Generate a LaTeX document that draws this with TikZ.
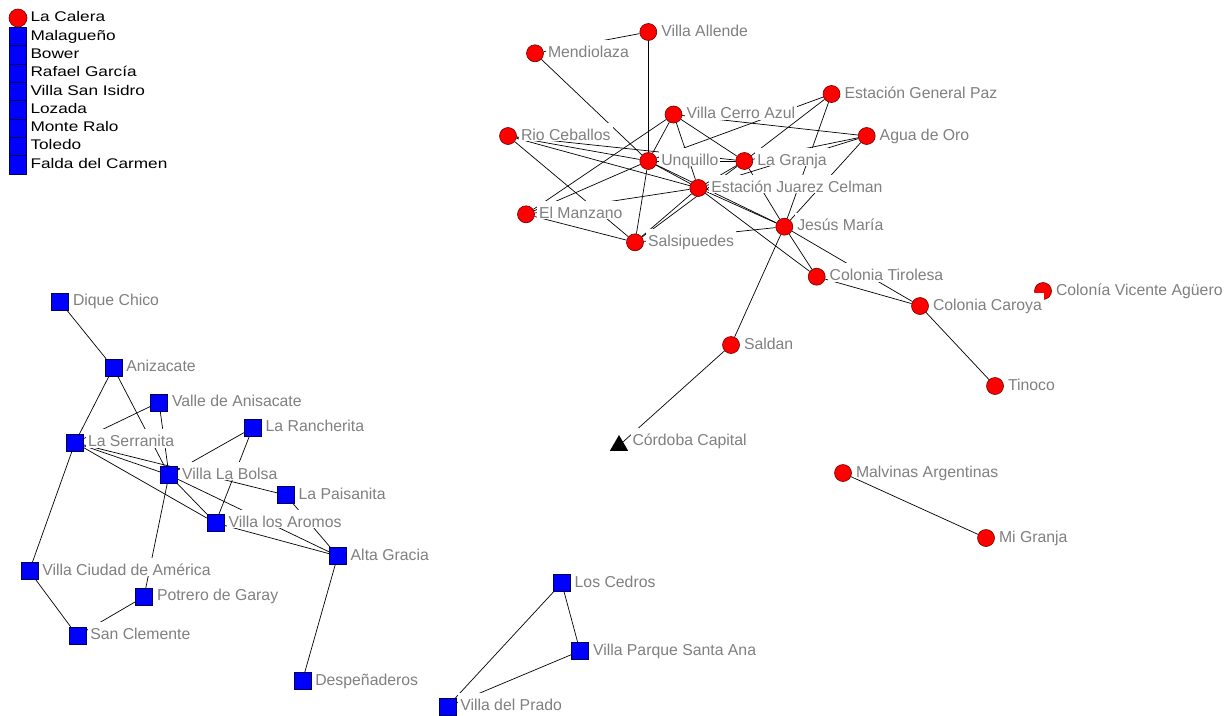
\documentclass[tikz,border=0pt]{standalone}
\usepackage{fontspec}
\usepackage{tikz}
\usetikzlibrary{shapes.geometric,backgrounds}
\setmainfont{Liberation Sans}
\newfontfamily\leyfont[FakeStretch=1.23]{Liberation Sans}

\definecolor{grisetiq}{RGB}{128,128,128}
\definecolor{bordrojo}{RGB}{110,0,0}
\definecolor{bordazul}{RGB}{0,0,90}

\tikzset{
  rojo/.style={circle,fill=red,draw=bordrojo,line width=0.6pt,minimum size=17pt,inner sep=0pt},
  azul/.style={rectangle,fill=blue,draw=bordazul,line width=0.6pt,minimum size=17pt,inner sep=0pt},
  triangulo/.style={regular polygon,regular polygon sides=3,fill=black,minimum size=21pt,inner sep=0pt},
  etiqueta/.style={fill=white,text=grisetiq,inner xsep=2pt,inner ysep=1pt,font=\fontsize{15.8}{18}\selectfont,
    text height=16.5pt,text depth=0pt,yshift=4.25pt},
  leyenda/.style={text=black,inner sep=1pt,font={\leyfont\fontsize{14}{16}\selectfont},text height=10pt,text depth=3pt},
  arista/.style={line width=0.7pt}
}

\begin{document}
\begin{tikzpicture}[x=1pt,y=-1pt,label distance=2pt]
\useasboundingbox (0,0) rectangle (1225,715);

%leyenda de la esquina
\node[rojo,minimum size=18pt,label={[leyenda,label distance=2pt]right:La Calera}] (leycalera) at (18,18) {};
\foreach \nombre [count=\i] in {Malagueño,Bower,Rafael García,Villa San Isidro,Lozada,Monte Ralo,Toledo,Falda del Carmen}
  \node[azul,minimum height=18.3pt,label={[leyenda,label distance=2.5pt]right:\nombre}] (ley\i) at (18,18.3+18.3*\i) {};

%localidades del norte (rojo)
\foreach \n/\x/\y/\t in {vallende/648.3/32/Villa Allende, mendiolaza/535/53.3/Mendiolaza,
    vcerro/673.5/114.5/Villa Cerro Azul, egp/831.5/94/Estación General Paz,
    aguaoro/866.7/136/Agua de Oro, rioceb/508/136/Rio Ceballos,
    unquillo/648.3/161/Unquillo, lagranja/744.3/161/La Granja,
    ejc/698.3/188/Estación Juarez Celman, manzano/526/214.3/El Manzano,
    salsip/635/242.3/Salsipuedes, jesus/784.3/226.7/Jesús María,
    tirolesa/816.7/276.7/Colonia Tirolesa, aguero/1043/291/Colonía Vicente Agüero,
    caroya/920/306/Colonia Caroya, saldan/731/345/Saldan, tinoco/995/386/Tinoco,
    malvinas/843/473/Malvinas Argentinas, migranja/986/538/Mi Granja}
  \node[rojo,label={[etiqueta]right:\t}] (\n) at (\x,\y) {};

%capital
\node[triangulo,label={[etiqueta,label distance=5pt,yshift=4pt]right:Córdoba Capital}] (cordoba) at (619,445.5) {};

%localidades del sur (azul)
\foreach \n/\x/\y/\t in {dique/60/301.7/Dique Chico, anizacate/113.3/367.7/Anizacate,
    valle/159/402.3/Valle de Anisacate, rancherita/252.7/427.7/La Rancherita,
    serranita/75/442.7/La Serranita, bolsa/169/475/Villa La Bolsa,
    paisanita/285.7/495/La Paisanita, aromos/215.5/523/Villa los Aromos,
    altagracia/337.7/556/Alta Gracia, ciudad/29.3/571/Villa Ciudad de América,
    potrero/144/596.7/Potrero de Garay, clemente/77.3/635.7/San Clemente,
    despe/302.3/681/Despeñaderos, cedros/561.7/583/Los Cedros,
    santaana/580/651/Villa Parque Santa Ana, prado/447.3/706.7/Villa del Prado}
  \node[azul,label={[etiqueta]right:\t}] (\n) at (\x,\y) {};

%aristas por debajo de todo
\begin{pgfonlayer}{background}
\foreach \a/\b in {vallende/mendiolaza, vallende/unquillo, mendiolaza/unquillo,
    vcerro/unquillo, vcerro/manzano, vcerro/ejc, vcerro/lagranja, vcerro/aguaoro,
    rioceb/unquillo, rioceb/ejc, rioceb/lagranja, rioceb/salsip,
    unquillo/lagranja, unquillo/ejc, unquillo/jesus, unquillo/salsip, unquillo/manzano, unquillo/egp,
    lagranja/egp, lagranja/ejc, lagranja/salsip, lagranja/jesus, lagranja/aguaoro,
    ejc/aguaoro, ejc/salsip, ejc/manzano, ejc/jesus, ejc/tirolesa,
    egp/jesus, aguaoro/jesus, manzano/salsip, salsip/jesus,
    jesus/saldan, jesus/tirolesa, jesus/caroya, tirolesa/caroya, caroya/tinoco,
    saldan/cordoba, malvinas/migranja}
  \draw[arista] (\a) -- (\b);
\foreach \a/\b in {dique/anizacate, anizacate/serranita, anizacate/bolsa,
    valle/serranita, valle/bolsa, serranita/bolsa, serranita/paisanita,
    serranita/aromos, serranita/ciudad, rancherita/bolsa, rancherita/aromos,
    bolsa/aromos, bolsa/altagracia, bolsa/potrero, aromos/altagracia,
    paisanita/altagracia, altagracia/despe, ciudad/clemente, clemente/potrero,
    cedros/santaana, cedros/prado, santaana/prado}
  \draw[arista] (\a) -- (\b);
\end{pgfonlayer}
\end{tikzpicture}
\end{document}
